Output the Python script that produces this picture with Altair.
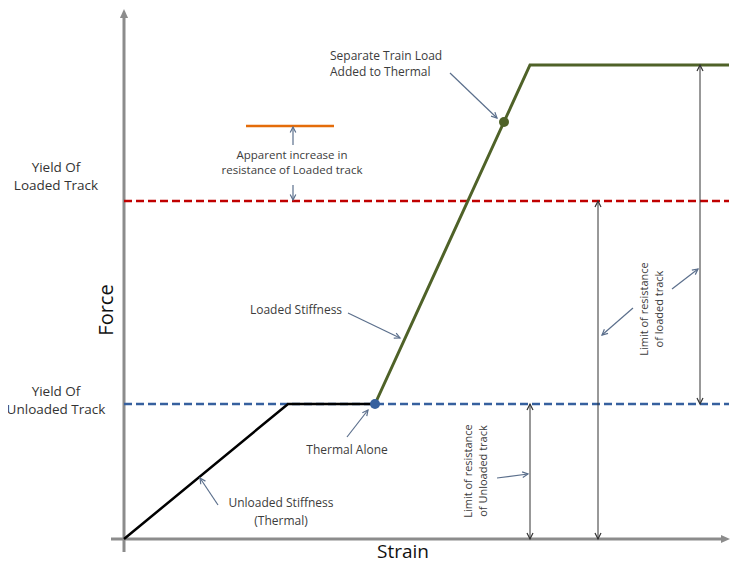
import altair as alt
import pandas as pd
import numpy as np

# ---- data (strain, force) in diagram units ----
unloaded_s = [0, 164, 251]
unloaded_f = [0, 135, 135]
loaded_s = [251, 406, 605]
loaded_f = [135, 474, 474]
yield_loaded = 338
yield_unloaded = 135
dash_s = [0, 605]
apparent_s = [122, 210]
apparent_f = 413
thermal_pt = [251, 135]
train_pt = [380, 417]

# annotation arrows: start s, start f, end s, end f
ann_s0 = [169, 169, 326, 224, 223, 94, 373, 509, 548]
ann_f0 = [394, 354, 466, 226, 102, 34, 61, 231, 250]
ann_s1 = [169, 169, 373, 276, 244, 76, 404, 478, 574]
ann_f1 = [412, 339, 421, 201, 129, 61, 65, 204, 270]

# double-headed dimension arrows
dim_s = [406, 474, 576]
dim_f0 = [0, 0, 135]
dim_f1 = [135, 338, 474]

# texts (multi-line labels; position = first line)
app_txt = ["Apparent increase in\nresistance of Loaded track"]
app_s = [168]
app_f = [383]

txt = ["Loaded Stiffness", "Thermal Alone"]
txt_s = [172, 223]
txt_f = [229, 89]

unl_txt = ["Unloaded Stiffness\n(Thermal)"]
unl_txt_s = [157]
unl_txt_f = [36]

left_txt = ["Separate Train Load\nAdded to Thermal"]
left_s = [206]
left_f = [483]

yield_txt = ["Yield Of\nLoaded Track", "Yield Of\nUnloaded Track"]
yield_s = [-68, -68]
yield_f = [371, 147]

rot_txt = ["Limit of resistance\nof Unloaded track",
           "Limit of resistance\nof loaded track"]
rot_s = [345, 521]
rot_f = [68, 230]

XS = alt.Scale(domain=[-116, 607])
YS = alt.Scale(domain=[-24, 531])
TEXTC = "#3c3c3c"
ANNC = "#5b6f8c"
FONT = "Open Sans"


def X(f="s"):
    return alt.X(f"{f}:Q", scale=XS, axis=None)


def Y(f="f"):
    return alt.Y(f"{f}:Q", scale=YS, axis=None)


layers = []

# axes
axes_df = pd.DataFrame({"s": [-13, 0], "f": [0, -13], "s2": [600, 0], "f2": [0, 524]})
layers.append(alt.Chart(axes_df).mark_rule(color="#8c8c8c", strokeWidth=3).encode(
    x=X(), y=Y(), x2="s2:Q", y2="f2:Q"))
tip_df = pd.DataFrame({"s": [606, 0], "f": [0, 530], "a": [90, 0]})
layers.append(alt.Chart(tip_df).mark_point(
    shape="M0,0L-0.45,1L0.45,1Z", filled=True, color="#8c8c8c", opacity=1, size=324).encode(
    x=X(), y=Y(), angle=alt.Angle("a:Q", scale=None)))

# dashed yield lines
dl = pd.DataFrame({"s": [dash_s[0]] * 2, "s2": [dash_s[1]] * 2,
                   "f": [yield_loaded, yield_unloaded], "c": ["#c00000", "#36609e"]})
layers.append(alt.Chart(dl).mark_rule(strokeWidth=2.5, strokeDash=[8, 4]).encode(
    x=X(), x2="s2:Q", y=Y(), color=alt.Color("c:N", scale=None)))

# orange apparent line
layers.append(alt.Chart(pd.DataFrame({"s": [apparent_s[0]], "s2": [apparent_s[1]], "f": [apparent_f]}))
              .mark_rule(color="#e46c0a", strokeWidth=2.5).encode(x=X(), x2="s2:Q", y=Y()))

# curves
unl = pd.DataFrame({"s": unloaded_s, "f": unloaded_f, "o": range(3)})
layers.append(alt.Chart(unl).mark_line(color="#000000", strokeWidth=2.5).encode(
    x=X(), y=Y(), order="o:Q"))
lod = pd.DataFrame({"s": loaded_s, "f": loaded_f, "o": range(3)})
layers.append(alt.Chart(lod).mark_line(color="#4f6228", strokeWidth=3).encode(
    x=X(), y=Y(), order="o:Q"))

# dots
dots = pd.DataFrame({"s": [thermal_pt[0], train_pt[0]], "f": [thermal_pt[1], train_pt[1]],
                     "c": ["#36609e", "#4f6228"]})
layers.append(alt.Chart(dots).mark_point(filled=True, opacity=1, size=100).encode(
    x=X(), y=Y(), color=alt.Color("c:N", scale=None)))

# dimension arrows
dim = pd.DataFrame({"s": dim_s, "f": dim_f0, "f2": dim_f1})
layers.append(alt.Chart(dim).mark_rule(color="#333333", strokeWidth=1).encode(
    x=X(), y=Y(), y2="f2:Q"))
heads = pd.DataFrame({"s": dim_s * 2, "f": dim_f1 + dim_f0, "a": [0] * 3 + [180] * 3})
CHEV = "M-0.4,0.8L0,0L0.4,0.8"
layers.append(alt.Chart(heads).mark_point(shape=CHEV, filled=False, color="#333333",
                                          strokeWidth=1.2, size=225, opacity=1).encode(
    x=X(), y=Y(), angle=alt.Angle("a:Q", scale=None)))

# annotation arrows
ann = pd.DataFrame({"s": ann_s0, "f": ann_f0, "s2": ann_s1, "f2": ann_f1})
layers.append(alt.Chart(ann).mark_rule(color=ANNC, strokeWidth=1.2).encode(
    x=X(), y=Y(), x2="s2:Q", y2="f2:Q"))
ang = (np.degrees(np.arctan2(np.array(ann_s1) - np.array(ann_s0),
                             np.array(ann_f1) - np.array(ann_f0))) + 360) % 360
ah = pd.DataFrame({"s": ann_s1, "f": ann_f1, "a": ang})
layers.append(alt.Chart(ah).mark_point(shape=CHEV, filled=False, color=ANNC,
                                       strokeWidth=1.2, size=196, opacity=1).encode(
    x=X(), y=Y(), angle=alt.Angle("a:Q", scale=None)))

# texts
layers.append(alt.Chart(pd.DataFrame({"s": app_s, "f": app_f, "t": app_txt})).mark_text(
    font=FONT, fontSize=11.5, color=TEXTC, align="center", baseline="middle",
    lineBreak="\n", lineHeight=15).encode(x=X(), y=Y(), text="t:N"))
layers.append(alt.Chart(pd.DataFrame({"s": txt_s, "f": txt_f, "t": txt})).mark_text(
    font=FONT, fontSize=12, color=TEXTC, align="center", baseline="middle").encode(
    x=X(), y=Y(), text="t:N"))
layers.append(alt.Chart(pd.DataFrame({"s": unl_txt_s, "f": unl_txt_f, "t": unl_txt})).mark_text(
    font=FONT, fontSize=12, color=TEXTC, align="center", baseline="middle",
    lineBreak="\n", lineHeight=18).encode(x=X(), y=Y(), text="t:N"))
layers.append(alt.Chart(pd.DataFrame({"s": left_s, "f": left_f, "t": left_txt})).mark_text(
    font=FONT, fontSize=12, color=TEXTC, align="left", baseline="middle",
    lineBreak="\n", lineHeight=16).encode(x=X(), y=Y(), text="t:N"))
layers.append(alt.Chart(pd.DataFrame({"s": yield_s, "f": yield_f, "t": yield_txt})).mark_text(
    font=FONT, fontSize=13.5, color="#333333", align="center", baseline="middle",
    lineBreak="\n", lineHeight=17.5).encode(x=X(), y=Y(), text="t:N"))
layers.append(alt.Chart(pd.DataFrame({"s": rot_s, "f": rot_f, "t": rot_txt})).mark_text(
    font=FONT, fontSize=11, color=TEXTC, align="center", baseline="middle", angle=270,
    lineBreak="\n", lineHeight=15).encode(x=X(), y=Y(), text="t:N"))
layers.append(alt.Chart(pd.DataFrame({"s": [-17], "f": [229], "t": ["Force"]})).mark_text(
    font=FONT, fontSize=20, color="#111111", align="center", baseline="middle", angle=270).encode(
    x=X(), y=Y(), text="t:N"))
layers.append(alt.Chart(pd.DataFrame({"s": [279], "f": [-19], "t": ["Strain"]})).mark_text(
    font=FONT, fontSize=19, color="#111111", align="center", baseline="alphabetic").encode(
    x=X(), y=Y(), text="t:N"))

chart = alt.layer(*layers).properties(
    width=723, height=555, padding=0, autosize=alt.AutoSizeParams(type="none")
).configure_view(stroke=None)

chart.save("out.html", embed_options={"renderer": "svg", "actions": False})
